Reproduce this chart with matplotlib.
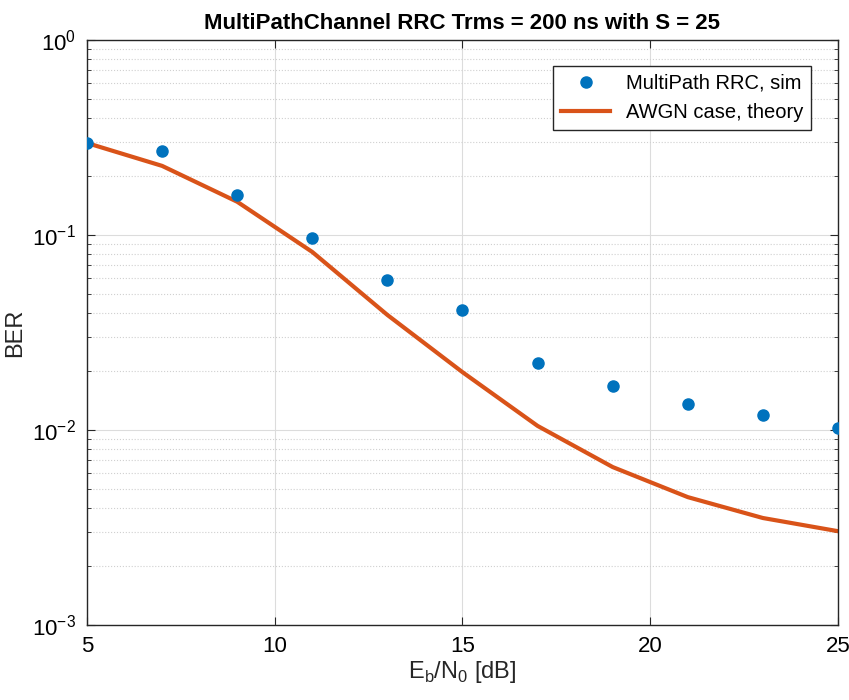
import numpy as np
from matplotlib import pyplot as plt

plt.rcParams["font.family"] = ["Liberation Sans", "DejaVu Sans"]
plt.rcParams["axes.unicode_minus"] = False

ebn0 = [5, 7, 9, 11, 13, 15, 17, 19, 21, 23, 25]
ber_sim = [0.296, 0.270, 0.160, 0.0966, 0.0588, 0.0412, 0.0221, 0.0168, 0.0136, 0.0119, 0.0102]
ber_theory = [0.296, 0.226, 0.148, 0.0818, 0.0389, 0.0198, 0.0105, 0.00646, 0.00453, 0.00354, 0.00303]

fig = plt.figure(figsize=(8.49, 7.0), dpi=100)
ax = fig.add_axes([0.1025, 0.107, 0.8845, 0.836])

ax.semilogy(ebn0, ber_sim, "o", color="#0072BD", markersize=8, label="MultiPath RRC, sim", zorder=3)
ax.semilogy(ebn0, ber_theory, "-", color="#D95319", linewidth=3, label="AWGN case, theory", zorder=2)

ax.set_xlim(5, 25)
ax.set_ylim(1e-3, 1)
ax.set_xticks([5, 10, 15, 20, 25])

ax.grid(True, which="major", color="#dcdcdc", linewidth=0.8)
ax.grid(True, which="minor", color="#d0d0d0", linestyle=":", linewidth=0.8)
ax.set_axisbelow(True)

ax.tick_params(which="both", direction="in", top=True, right=True, labelsize=16, color="#262626")
ax.tick_params(which="major", length=6)
ax.tick_params(which="minor", length=3)
ax.tick_params(axis="x", which="major", pad=8)
ax.tick_params(axis="y", which="major", pad=8)
for s in ax.spines.values():
    s.set_color("#262626")
    s.set_linewidth(1.0)

ax.set_xlabel(r"E$_\mathregular{b}$/N$_\mathregular{0}$ [dB]", fontsize=17, color="#262626", labelpad=1)
ax.set_ylabel("BER", fontsize=17, color="#262626")
ax.set_title("MultiPathChannel RRC Trms = 200 ns with S = 25",
             fontsize=16, fontweight="bold", pad=8)

leg = ax.legend(loc="upper right", fontsize=14.5, fancybox=False, framealpha=1,
                edgecolor="#262626", borderpad=0.4, handlelength=2.4,
                bbox_to_anchor=(0.978, 0.973))
leg.get_frame().set_linewidth(1.0)

plt.savefig("out.png", dpi=100)
